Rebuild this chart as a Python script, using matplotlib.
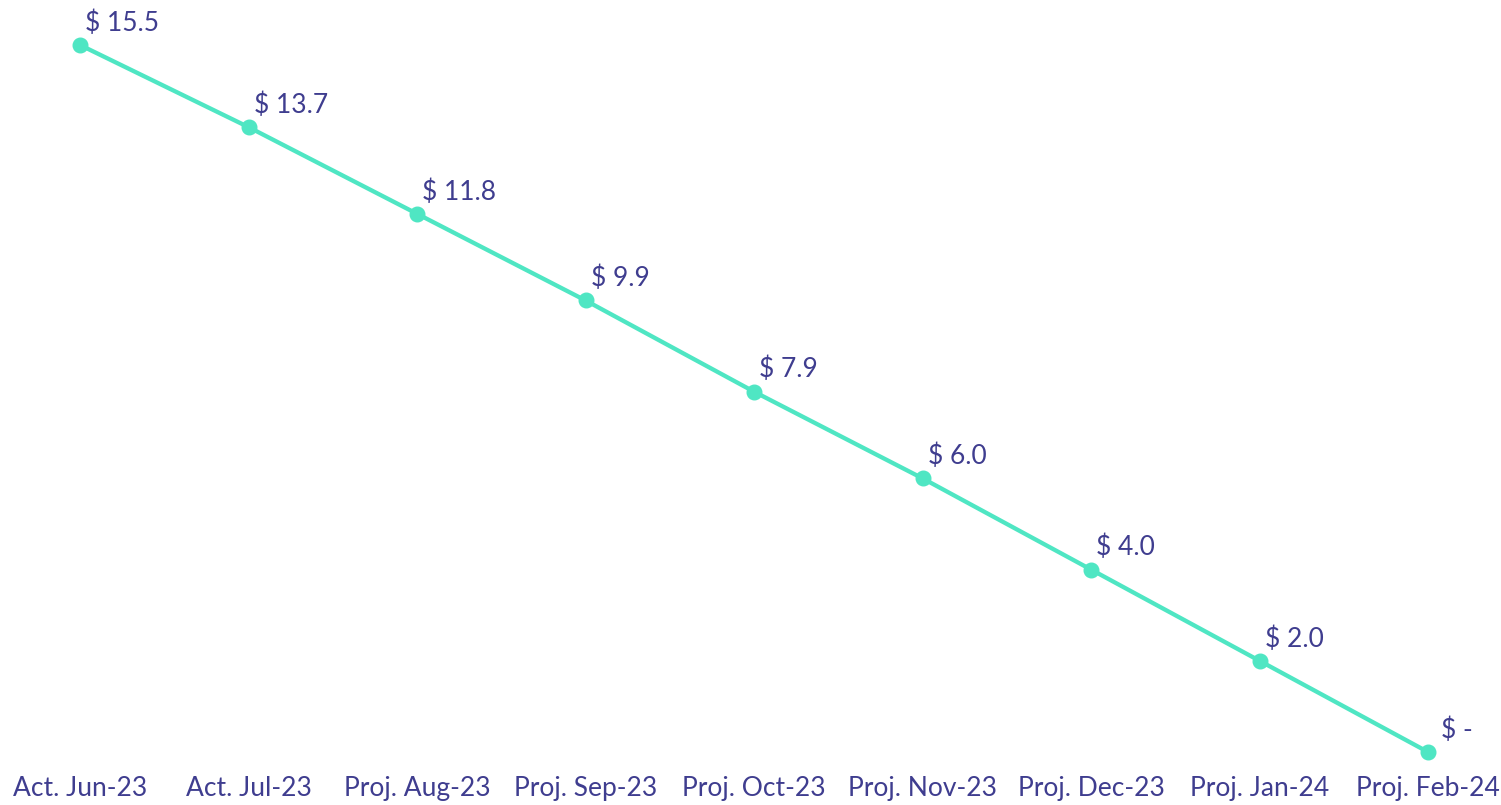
import matplotlib
matplotlib.use("Agg")
import matplotlib.pyplot as plt

categories = ["Act. Jun-23", "Act. Jul-23", "Proj. Aug-23", "Proj. Sep-23", "Proj. Oct-23",
              "Proj. Nov-23", "Proj. Dec-23", "Proj. Jan-24", "Proj. Feb-24"]
values = [15.5, 13.7, 11.8, 9.9, 7.9, 6.0, 4.0, 2.0, 0.0]
labels = ["$ 15.5", "$ 13.7", "$ 11.8", "$ 9.9", "$ 7.9", "$ 6.0", "$ 4.0", "$ 2.0", "$ -"]

LINE = "#4FE6C3"
TEXT = "#3F3D8F"
plt.rcParams['font.family'] = ['Lato', 'DejaVu Sans']

W, H = 1501, 805
fig = plt.figure(figsize=(W / 100, H / 100), dpi=100)
fig.patch.set_facecolor("white")

# axes: value 0 at y=752 px, value 15.5 at y=45 px; x=0 at 80 px, x=8 at 1428 px
ax = fig.add_axes([0, (H - 752) / H, 1, (752 - 45) / H])
step = (1428 - 80) / 8
ax.set_xlim(-80 / step, 8 + (W - 1428) / step)
ax.set_ylim(0, 15.5)

x = list(range(len(categories)))
ax.plot(x, values, color=LINE, lw=3.1, marker="o", ms=10.5, clip_on=False, zorder=3)

for i, (v, lab) in enumerate(zip(values, labels)):
    dx = 13 if v == 0 else 5
    ax.annotate(lab, (i, v), xytext=(dx * 0.72, 22 * 0.72), textcoords="offset points",
                ha="left", va="center", color=TEXT, fontsize=19)

ax.set_xticks(x)
ax.set_xticklabels(categories, color=TEXT, fontsize=19)
ax.tick_params(axis="x", length=0, pad=17)
ax.set_yticks([])
for s in ax.spines.values():
    s.set_visible(False)
ax.patch.set_alpha(0)

fig.savefig("out.png", dpi=100)
